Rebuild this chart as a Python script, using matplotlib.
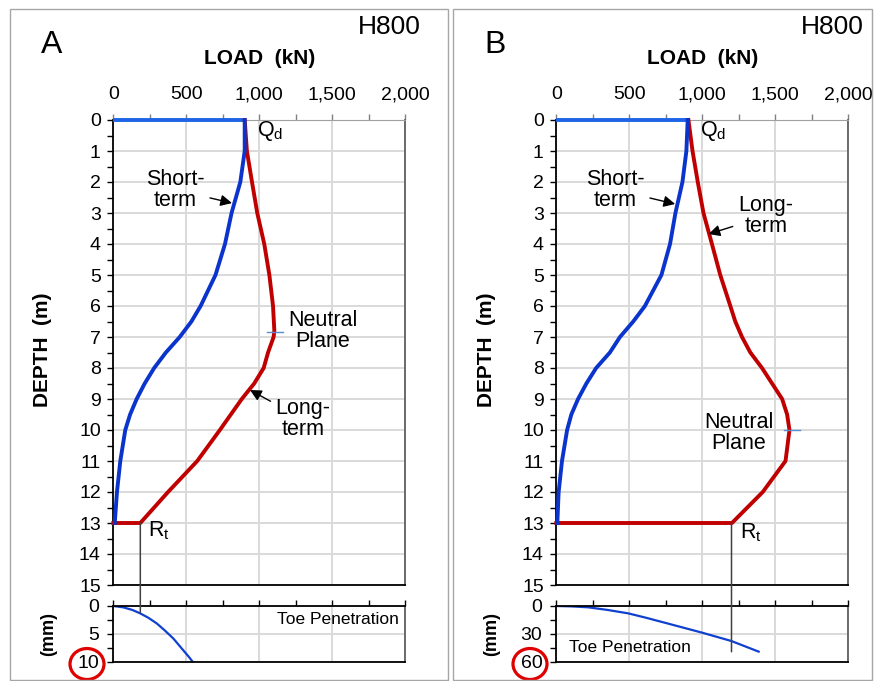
import numpy as np
import matplotlib
matplotlib.use('Agg')
import matplotlib.pyplot as plt
from matplotlib.patches import Rectangle, Ellipse, ConnectionPatch

plt.rcParams['font.family'] = ['Liberation Sans', 'DejaVu Sans']

# ---- data ----
# load (kN) / depth (m)
short_depth_a = [0, 0, 1, 2, 3, 4, 5, 6, 6.5, 7, 7.5, 8, 8.5, 9, 9.5, 10, 11, 12, 13]
short_load_a = [0, 900, 900, 870, 810, 765, 700, 598, 535, 455, 360, 280, 215, 160, 115, 82, 48, 25, 10]
long_depth_a = [0, 1, 2, 3, 4, 5, 6, 6.8, 7, 7.5, 8, 8.5, 9, 10, 11, 12, 13, 13]
long_load_a = [900, 915, 950, 986, 1034, 1069, 1094, 1103, 1098, 1060, 1030, 965, 880, 730, 575, 375, 185, 0]
toe_load_a = [0, 68, 130, 183, 240, 297, 350, 411, 479, 515, 548]
toe_mm_a = [0, 0.24, 0.7, 1.3, 2.1, 3.1, 4.3, 5.8, 7.9, 9.0, 10.1]

short_depth_b = [0, 0, 1, 2, 3, 4, 5, 6, 6.5, 7, 7.5, 8, 8.5, 9, 9.5, 10, 11, 12, 13]
short_load_b = [0, 900, 891, 864, 816, 779, 720, 607, 527, 436, 367, 273, 206, 149, 103, 74, 39, 16, 7]
long_depth_b = [0, 1, 2, 3, 4, 5, 6, 6.5, 7, 7.5, 8, 9, 9.5, 10, 11, 12, 13, 13]
long_load_b = [905, 933, 969, 1008, 1066, 1123, 1192, 1226, 1272, 1329, 1409, 1547, 1581, 1597, 1570, 1414, 1203, 0]
toe_load_b = [0, 100, 218, 350, 493, 620, 745, 870, 997, 1199, 1386]
toe_mm_b = [0, 0.4, 1.4, 4.2, 7.9, 12.8, 18.0, 23.2, 28.5, 37.5, 48.9]

load_ticks = [0, 500, 1000, 1500, 2000]
load_labels = ['0', '500', '1,000', '1,500', '2,000']

W, H = 874, 681
fig = plt.figure(figsize=(W / 100, H / 100), dpi=100)


def box(x0, y0, x1, y1):
    return [x0 / W, 1 - y1 / H, (x1 - x0) / W, (y1 - y0) / H]


def ftext(x, y, s, **kw):
    fig.text(x / W, 1 - y / H, s, **kw)


BLUE = '#0A34CC'
BLUE_TOP = '#1E64E6'
RED = '#C00000'
GRID = '#D9D9D9'


def panel(dx, letter, sd, sl, ld, ll, tl, tm, toe_max, toe_ticks, rt, line_end,
          short_txt, short_head, long_txt, long_head, np_txt, np_mark, qd_pos, rt_pos,
          toe_txt, toe_kw):
    x0 = dx + 113.3
    ax = fig.add_axes(box(x0, 120, x0 + 292, 585))
    ax2 = fig.add_axes(box(x0, 606, x0 + 292, 662))

    # main load-depth chart
    ax.plot(sl[:2], sd[:2], color=BLUE_TOP, lw=2.8, solid_capstyle='butt', zorder=3,
            clip_on=False)
    ax.plot(ll, ld, color=RED, lw=2.8, zorder=3, clip_on=False)
    ax.plot(sl[1:], sd[1:], color=BLUE, lw=2.8, zorder=4, clip_on=False)
    ax.set_xlim(0, 2000)
    ax.set_ylim(15, 0)
    ax.xaxis.tick_top()
    ax.set_xticks(load_ticks)
    ax.set_xticklabels(load_labels)
    ax.set_xticks(np.arange(250, 2000, 500), minor=True)
    ax.set_yticks(range(16))
    ax.set_yticks(np.arange(0.5, 15, 1), minor=True)
    ax.tick_params(axis='x', which='both', direction='out', length=4, width=1,
                   color='#808080', labelsize=14, pad=8)
    ax.tick_params(axis='y', which='both', direction='out', length=4, width=1,
                   labelsize=14, pad=5)
    ax.grid(True, which='major', color=GRID, lw=1.4)
    ax.set_axisbelow(True)
    for s in ['left', 'bottom']:
        ax.spines[s].set_linewidth(1.3)
    ax.spines['top'].set_color('#A0A0A0')
    ax.spines['right'].set_color('#606060')
    ax.spines['right'].set_linewidth(1.3)

    ax.plot(np_mark[0], np_mark[1], color='#5B8BD0', lw=1, zorder=5)
    arrow = dict(arrowstyle='-|>', color='black', lw=1, mutation_scale=17, shrinkA=2, shrinkB=0)
    ax.annotate('Short-\nterm', xy=short_head, xytext=short_txt, ha='center', va='center',
                fontsize=15.5, linespacing=1.0, arrowprops=arrow)
    ax.annotate('Long-\nterm', xy=long_head, xytext=long_txt, ha='center', va='center',
                fontsize=15.5, linespacing=1.0, arrowprops=arrow)
    ax.text(np_txt[0], np_txt[1], 'Neutral\nPlane', ha='center', va='center', fontsize=15.5,
            linespacing=1.0)
    ax.text(qd_pos[0], qd_pos[1], r'Q$_\mathregular{d}$', ha='left', va='center', fontsize=15.5)
    ax.text(rt_pos[0], rt_pos[1], r'R$_\mathregular{t}$', ha='left', va='center', fontsize=15.5)

    # toe penetration chart
    ax2.plot(tl, tm, color='#1040D0', lw=1.6)
    ax2.set_xlim(0, 2000)
    ax2.set_ylim(toe_max, 0)
    ax2.xaxis.tick_top()
    ax2.set_xticks(load_ticks)
    ax2.set_xticklabels([])
    ax2.set_xticks(np.arange(250, 2000, 500), minor=True)
    ax2.set_yticks(toe_ticks)
    ax2.set_yticks([toe_max / 4, toe_max * 3 / 4], minor=True)
    ax2.tick_params(axis='both', which='both', direction='out', length=4, width=1, labelsize=14)
    ax2.tick_params(axis='y', pad=6)
    ax2.grid(True, which='major', color=GRID, lw=1.4)
    ax2.set_axisbelow(True)
    for s in ['left', 'bottom', 'top']:
        ax2.spines[s].set_linewidth(1.3)
    ax2.spines['right'].set_color('#606060')
    ax2.spines['right'].set_linewidth(1.3)
    ax2.text(toe_txt[0], toe_txt[1], 'Toe Penetration', va='center', fontsize=12.5, **toe_kw)

    # line from Rt down to the toe curve
    con = ConnectionPatch(xyA=(rt, 13), coordsA='data', axesA=ax,
                          xyB=(rt, line_end), coordsB='data', axesB=ax2,
                          color='#404040', lw=1.1, zorder=2)
    fig.add_artist(con)

    # labels
    ftext(dx + 52, 45, letter, ha='center', va='center', fontsize=23)
    ftext(dx + 421, 27, 'H800', ha='right', va='center', fontsize=19)
    ftext(dx + 260, 59, 'LOAD  (kN)', ha='center', va='center', fontsize=15, fontweight='bold')
    ftext(dx + 43, 350, 'DEPTH  (m)', ha='center', va='center', fontsize=15,
          fontweight='bold', rotation=90)
    ftext(dx + 49, 634, '(mm)', ha='center', va='center', fontsize=13,
          fontweight='bold', rotation=90)
    fig.add_artist(Ellipse(((dx + 87) / W, 1 - 664 / H), 34 / W, 31 / H,
                           transform=fig.transFigure, fill=False, ec='#E00000', lw=2.3))


panel(0, 'A', short_depth_a, short_load_a, long_depth_a, long_load_a, toe_load_a, toe_mm_a,
      10, [0, 5, 10], 185, 1.2,
      (424, 2.25), (813, 2.68), (1301, 9.65), (936, 8.71), (1436, 6.8),
      ([1050, 1160], [6.85, 6.85]), (982, 0.35), (238, 13.25),
      (1957, 2.5), dict(ha='right'))
panel(443, 'B', short_depth_b, short_load_b, long_depth_b, long_load_b, toe_load_b, toe_mm_b,
      60, [0, 30, 60], 1200, 49,
      (403, 2.25), (814, 2.71), (1434, 3.1), (1043, 3.68), (1250, 10.1),
      ([1557, 1672], [10, 10]), (986, 0.35), (1260, 13.3),
      (87, 44), dict(ha='left'))

# panel frames
fig.add_artist(Rectangle((10 / W, 1 - 680 / H), 438 / W, 671 / H, transform=fig.transFigure,
                         fill=False, ec='#A6A6A6', lw=1))
fig.add_artist(Rectangle((453 / W, 1 - 680 / H), 419 / W, 671 / H, transform=fig.transFigure,
                         fill=False, ec='#A6A6A6', lw=1))

fig.savefig('out.png', dpi=100)
